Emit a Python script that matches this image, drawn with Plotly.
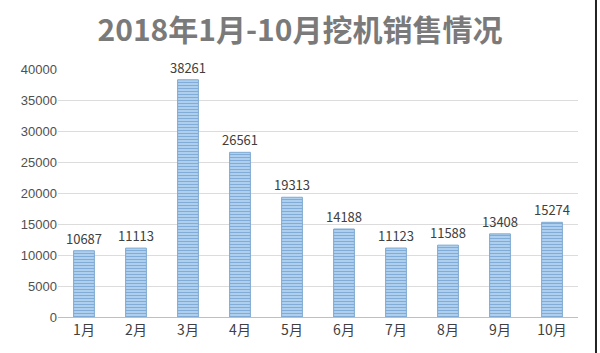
import plotly.graph_objects as go

months = ["1月", "2月", "3月", "4月", "5月", "6月", "7月", "8月", "9月", "10月"]
sales = [10687, 11113, 38261, 26561, 19313, 14188, 11123, 11588, 13408, 15274]
y_ticks = [0, 5000, 10000, 15000, 20000, 25000, 30000, 35000, 40000]

fig = go.Figure()
fig.add_trace(go.Bar(
    x=months, y=sales,
    text=[str(v) for v in sales], textposition="outside",
    constraintext="none",
    textfont=dict(family="Noto Sans CJK SC, sans-serif", size=13, color="#404040"),
    cliponaxis=False,
    marker=dict(
        color="#a9cbe9",
        line=dict(color="#7fa9d1", width=1),
        pattern=dict(shape="-", fgcolor="#4f86c0", bgcolor="#b3d3f0", size=3, solidity=0.4),
    ),
    width=0.4,
))

fig.update_layout(
    width=600, height=353,
    margin=dict(l=58, r=22, t=69, b=36),
    paper_bgcolor="white", plot_bgcolor="white",
    showlegend=False,
    title=dict(
        text="<b>2018年1月-10月挖机销售情况</b>",
        x=0.5, xanchor="center", y=0.915, yanchor="middle",
        font=dict(family="Noto Sans CJK SC, sans-serif", size=30, color="#7a7a7a"),
    ),
    xaxis=dict(
        showgrid=False, showline=True, linecolor="#bfbfbf", linewidth=1,
        ticks="", tickfont=dict(family="Noto Sans CJK SC, sans-serif", size=14, color="#404040"),
    ),
    yaxis=dict(
        range=[0, 40000], tickvals=y_ticks, ticktext=[str(v) for v in y_ticks],
        showgrid=True, gridcolor="#dcdcdc", gridwidth=1,
        zeroline=False, showline=False, ticks="",
        tickfont=dict(family="Liberation Sans, Arial, sans-serif", size=13, color="#505050"),
    ),
)
fig.add_shape(type="line", xref="paper", yref="paper", x0=1.0346, x1=1.0346, y0=-0.6, y1=1.5,
              line=dict(color="#222222", width=2))

fig.write_html("out.html")
